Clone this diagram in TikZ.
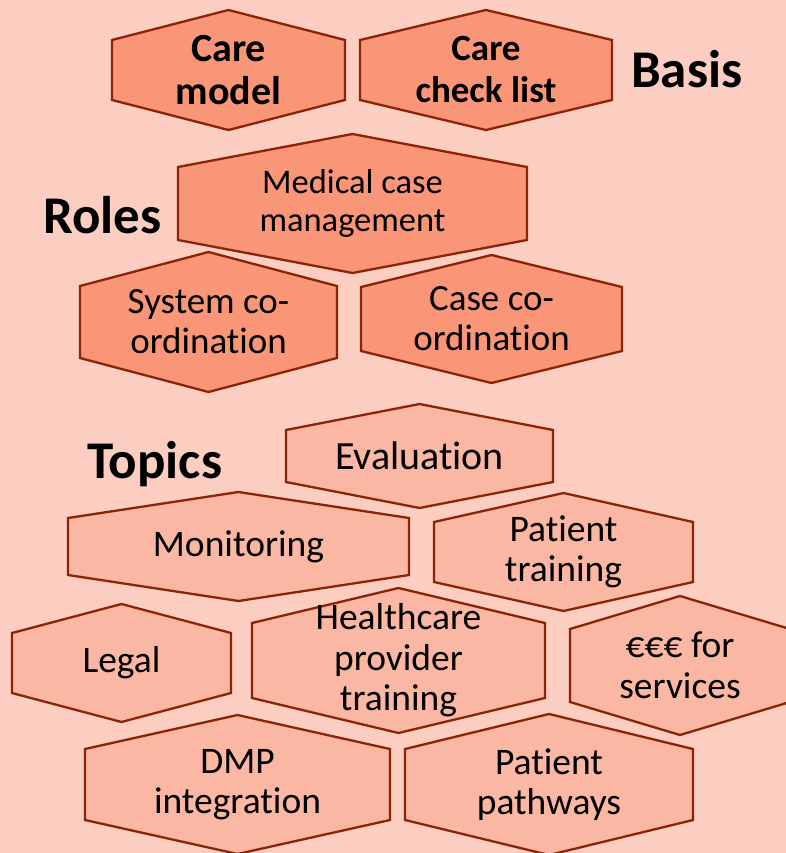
\documentclass[tikz,border=0pt]{standalone}
\usepackage{fontspec}
\setmainfont{Carlito}[Ligatures=NoCommon]
\usetikzlibrary{calc}

\definecolor{bgsalmon}{RGB}{252,206,193}
\definecolor{rolefill}{RGB}{249,150,120}
\definecolor{topicfill}{RGB}{250,183,163}
\definecolor{hexline}{RGB}{139,36,6}

% [text style]{name}{hex style}{left}{right}{upper}{lower}{peak}{text}
\newcommand{\hexa}[9][topictext]{%
  \draw[#3] (#4,#6) -- ({(#4+#5)/2},{#6-#8}) -- (#5,#6) -- (#5,#7)
    -- ({(#4+#5)/2},{#7+#8}) -- (#4,#7) -- cycle;
  \node[#1] (#2) at ({(#4+#5)/2},{(#6+#7)/2}) {#9};
}

\tikzset{
  rolehex/.style={draw=hexline, fill=rolefill, line width=2.3pt},
  topichex/.style={draw=hexline, fill=topicfill, line width=2.3pt},
  topictext/.style={align=center, inner sep=0pt, font=\fontsize{37.5}{40.5}\selectfont},
  roletext/.style={align=center, inner sep=0pt, font=\fontsize{37}{40}\selectfont},
  basistext/.style={align=center, inner sep=0pt, font=\fontsize{37}{42}\selectfont\bfseries},
  heading/.style={anchor=base west, inner sep=0pt, font=\fontsize{53}{58}\selectfont\bfseries}
}

\begin{document}
\begin{tikzpicture}[x=1pt, y=-1pt]
\fill[bgsalmon] (0,0) rectangle (786,853);
\useasboundingbox (0,0) rectangle (786,853);

% basis
\hexa[basistext, font=\fontsize{40}{43}\selectfont\bfseries]{caremodel}{rolehex}{112}{345}{40}{100}{30}{Care\\model}
\hexa[basistext]{checklist}{rolehex}{360}{612}{40}{100}{30}{Care\\check list}
\node[heading] (basis) at (631,88) {Basis};

% roles
\hexa[roletext, font=\fontsize{34.5}{37.5}\selectfont]{medcase}{rolehex}{178}{527}{167}{240}{33}{Medical case\\management}
\hexa[roletext]{syscoord}{rolehex}{80}{337}{286}{358}{34}{System co-\\ordination}
\hexa[roletext]{casecoord}{rolehex}{361}{622}{287}{351}{32}{Case co-\\ordination}
\node[heading] (roles) at (43,233) {Roles};

% topics
\node[heading] (topics) at (87,478) {Topics};
\hexa[topictext, font=\fontsize{40}{44}\selectfont]{evaluation}{topichex}{286}{553}{430}{482}{26}{Evaluation}
\hexa{monitoring}{topichex}{68}{409}{518}{575}{26}{Monitoring}
\hexa{pattraining}{topichex}{434}{693}{522}{582}{29}{Patient\\training}
\hexa{legal}{topichex}{12}{231}{633}{693}{29}{Legal}
\hexa{hcptraining}{topichex}{252}{545}{623}{698}{35}{Healthcare\\provider\\training}
\hexa{services}{topichex}{570}{790}{629}{702}{33}{€€€ for\\services}
\hexa{dmp}{topichex}{85}{390}{749}{820}{34}{DMP\\integration}
\hexa{pathways}{topichex}{405}{693}{749}{820}{35}{Patient\\pathways}
\end{tikzpicture}
\end{document}
